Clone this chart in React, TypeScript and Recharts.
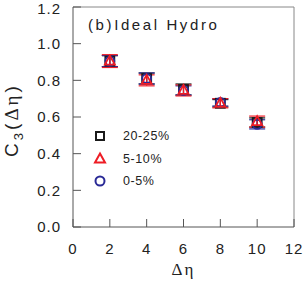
import React from 'react';
import { ScatterChart, Scatter, XAxis, YAxis, ErrorBar, ReferenceLine } from 'recharts';

const deltaEta = [2, 4, 6, 8, 10];
const c3Central2025 = [0.905, 0.81, 0.75, 0.675, 0.57];
const c3Central510 = [0.905, 0.8, 0.745, 0.675, 0.575];
const c3Central05 = [0.905, 0.81, 0.745, 0.68, 0.56];
const err2025 = [0.03, 0.03, 0.03, 0.02, 0.025];
const err510 = [0.035, 0.03, 0.03, 0.025, 0.03];
const err05 = [0.03, 0.03, 0.025, 0.02, 0.025];
const xTicks = [0, 2, 4, 6, 8, 10, 12];
const yTicks = [0, 0.2, 0.4, 0.6, 0.8, 1.0, 1.2];
const seriesNames = ['20-25%', '5-10%', '0-5%'];

const build = (ys: number[], es: number[]) => deltaEta.map((x, i) => ({ x, y: ys[i], err: es[i] }));
const data2025 = build(c3Central2025, err2025);
const data510 = build(c3Central510, err510);
const data05 = build(c3Central05, err05);

const FONT = '"Liberation Sans", Arial, Helvetica, sans-serif';
const SERIF = '"Liberation Serif", "Times New Roman", serif';

const BLACK = '#1a1a1a';
const RED = '#ee1c25';
const BLUE = '#2a2a96';

const Square = (p: any) => (
  <rect x={p.cx - 4.5} y={p.cy - 4.5} width={9} height={9} fill="none" stroke={BLACK} strokeWidth={1.8} />
);
const Triangle = (p: any) => (
  <path d={`M${p.cx},${p.cy - 5.5} L${p.cx + 5},${p.cy + 3.5} L${p.cx - 5},${p.cy + 3.5} Z`} fill="none" stroke={RED} strokeWidth={1.8} />
);
const Circle = (p: any) => (
  <circle cx={p.cx} cy={p.cy} r={4.5} fill="none" stroke={BLUE} strokeWidth={1.8} />
);

const LegendBox = () => {
  const syms = [
    (cx: number, cy: number) => <rect x={cx - 4} y={cy - 4} width={8} height={8} fill="none" stroke={BLACK} strokeWidth={2} />,
    (cx: number, cy: number) => <path d={`M${cx},${cy - 5} L${cx + 5},${cy + 4} L${cx - 5},${cy + 4} Z`} fill="none" stroke={RED} strokeWidth={2} />,
    (cx: number, cy: number) => <circle cx={cx} cy={cy} r={4.5} fill="none" stroke={BLUE} strokeWidth={2} />,
  ];
  return (
    <svg width={110} height={70} style={{ position: 'absolute', left: 92, top: 128 }}>
      {seriesNames.map((n, i) => (
        <g key={n}>
          {syms[i](8, 8 + i * 22.5)}
          <text x={31} y={8 + i * 22.5} dy="0.35em" fontSize={12.5} letterSpacing={0.6} fontFamily={FONT} fill="#222">{n}</text>
        </g>
      ))}
    </svg>
  );
};

const YLabel = () => (
  <text transform="translate(17.5,120) rotate(-90)" textAnchor="middle" fontSize={19} letterSpacing={3} fill="#222">
    <tspan fontFamily={FONT}>C</tspan>
    <tspan fontFamily={FONT} fontSize={13} dy={5}>3</tspan>
    <tspan fontFamily={FONT} dy={-5}>(</tspan>
    <tspan fontFamily={SERIF}>Δη</tspan>
    <tspan fontFamily={FONT}>)</tspan>
  </text>
);

export default function App() {
  return (
    <div style={{ position: 'absolute', left: 0, top: 0, width: 304, height: 284, background: '#fff' }}>
      <ScatterChart width={304} height={284} margin={{ top: 7, right: 10, left: 0, bottom: 0 }}>
        <XAxis
          type="number"
          dataKey="x"
          domain={[0, 12]}
          ticks={xTicks}
          height={57}
          tickSize={-8}
          tickMargin={24}
          stroke="#555"
          tick={{ fill: '#222', fontSize: 15, fontFamily: FONT, letterSpacing: 1 }}
          label={{ value: 'Δη', position: 'insideBottom', offset: 9, fill: '#222', fontSize: 17, fontFamily: SERIF, letterSpacing: 2 }}
        />
        <YAxis
          type="number"
          dataKey="y"
          domain={[0, 1.2]}
          ticks={yTicks}
          width={73}
          tickSize={-8}
          tickMargin={20}
          stroke="#555"
          tickFormatter={(v: number) => v.toFixed(1)}
          tick={{ fill: '#222', fontSize: 15, fontFamily: FONT, letterSpacing: 1 }}
          label={<YLabel />}
        />
        <ReferenceLine y={1.2} stroke="#888" strokeWidth={1} />
        <ReferenceLine x={12} stroke="#888" strokeWidth={1} />
        <Scatter name={seriesNames[0]} data={data2025} shape={Square} isAnimationActive={false}>
          <ErrorBar dataKey="err" direction="y" width={8} stroke={BLACK} strokeWidth={1.2} />
        </Scatter>
        <Scatter name={seriesNames[2]} data={data05} shape={Circle} isAnimationActive={false}>
          <ErrorBar dataKey="err" direction="y" width={8} stroke={BLUE} strokeWidth={1.2} />
        </Scatter>
        <Scatter name={seriesNames[1]} data={data510} shape={Triangle} isAnimationActive={false}>
          <ErrorBar dataKey="err" direction="y" width={8} stroke={RED} strokeWidth={1.2} />
        </Scatter>
      </ScatterChart>
      <LegendBox />
      <div style={{ position: 'absolute', left: 88, top: 15, fontSize: 15, fontFamily: FONT, letterSpacing: 2.6, color: '#222', lineHeight: '20px', whiteSpace: 'nowrap' }}>
        (b)Ideal Hydro
      </div>
    </div>
  );
}
